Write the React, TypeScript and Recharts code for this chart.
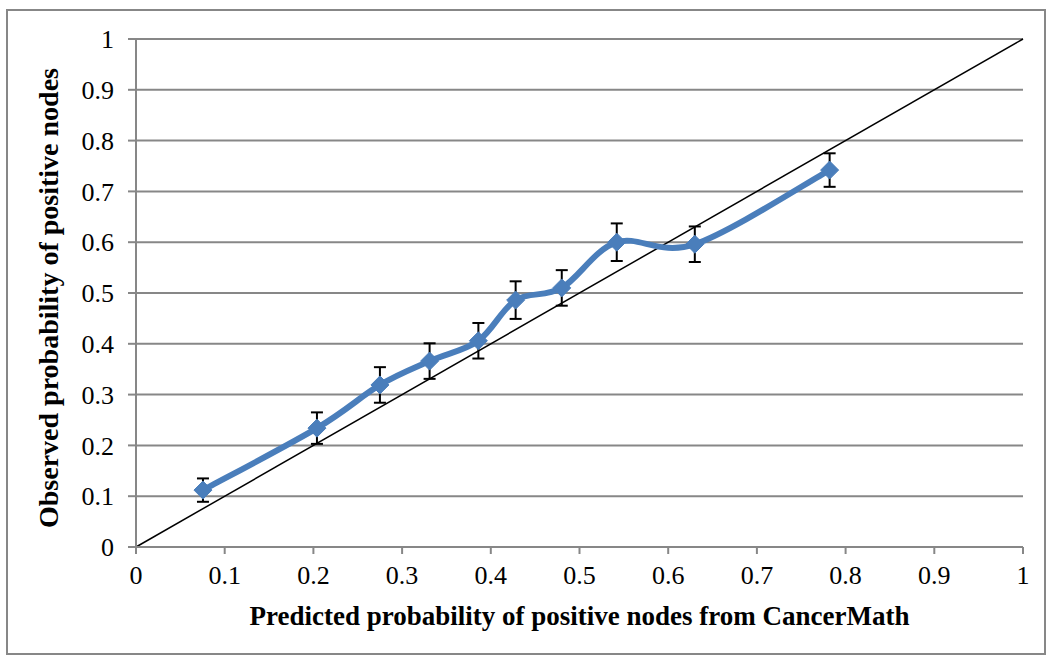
import React from "react";
import {
  CartesianGrid,
  ErrorBar,
  Label,
  Line,
  LineChart,
  ReferenceLine,
  XAxis,
  YAxis,
} from "recharts";

// predicted (CancerMath) vs observed probability of positive nodes
const predicted = [0.0755, 0.204, 0.275, 0.331, 0.386, 0.428, 0.48, 0.542, 0.63, 0.782];
const observed = [0.112, 0.234, 0.319, 0.366, 0.406, 0.486, 0.51, 0.6, 0.596, 0.742];
const errors = [0.023, 0.031, 0.035, 0.035, 0.035, 0.037, 0.035, 0.037, 0.035, 0.033];
const ticks = [0, 0.1, 0.2, 0.3, 0.4, 0.5, 0.6, 0.7, 0.8, 0.9, 1];

const xTitle = "Predicted probability of positive nodes from CancerMath";
const yTitle = "Observed probability of positive nodes";

const data = predicted.map((p, i) => ({ x: p, y: observed[i], err: errors[i] }));

const FONT = "'Liberation Serif', 'Times New Roman', serif";
const BLUE = "#4A7EBB";
const GRAY = "#878787";

// excel-style smoothed line (catmull-rom through the points)
function smoothCurve(context: any) {
  let pts: number[][] = [];
  return {
    areaStart() {},
    areaEnd() {},
    lineStart() {
      pts = [];
    },
    point(x: number, y: number) {
      pts.push([+x, +y]);
    },
    lineEnd() {
      if (!pts.length) return;
      context.moveTo(pts[0][0], pts[0][1]);
      for (let i = 0; i < pts.length - 1; i++) {
        const p0 = pts[Math.max(0, i - 1)];
        const p1 = pts[i];
        const p2 = pts[i + 1];
        const p3 = pts[Math.min(pts.length - 1, i + 2)];
        context.bezierCurveTo(
          p1[0] + (p2[0] - p0[0]) / 6,
          p1[1] + (p2[1] - p0[1]) / 6,
          p2[0] - (p3[0] - p1[0]) / 6,
          p2[1] - (p3[1] - p1[1]) / 6,
          p2[0],
          p2[1]
        );
      }
    },
  };
}

function Diamond(props: any) {
  const { cx, cy } = props;
  if (cx == null || cy == null) return null;
  const r = 9;
  return (
    <path
      d={`M${cx},${cy - r}L${cx + r},${cy}L${cx},${cy + r}L${cx - r},${cy}Z`}
      fill={BLUE}
      stroke={BLUE}
    />
  );
}

function YTitle(props: any) {
  const vb = props.viewBox || {};
  const x = vb.x + 48;
  const y = vb.y + vb.height / 2 + 5;
  return (
    <text
      x={x}
      y={y}
      transform={`rotate(-90 ${x} ${y})`}
      textAnchor="middle"
      dominantBaseline="central"
      fontFamily={FONT}
      fontWeight="bold"
      fontSize={28}
      fill="#000"
    >
      {yTitle}
    </text>
  );
}

export default function App() {
  const tick = { fill: "#000", fontSize: 26, fontFamily: FONT };
  return (
    <div style={{ position: "absolute", left: 0, top: 0, width: 1049, height: 657, background: "#fff" }}>
      <div
        style={{
          position: "absolute",
          left: 6,
          top: 9,
          width: 1040,
          height: 646,
          border: `2px solid ${GRAY}`,
          boxSizing: "border-box",
        }}
      />
      <div style={{ position: "absolute", left: 0, top: 0 }}>
        <LineChart
          width={1049}
          height={657}
          data={data}
          margin={{ top: 39, right: 26, bottom: 0, left: 0 }}
        >
          <CartesianGrid vertical={false} stroke={GRAY} strokeWidth={2} />
          <XAxis
            type="number"
            dataKey="x"
            domain={[0, 1]}
            ticks={ticks}
            height={110}
            stroke={GRAY}
            strokeWidth={2}
            tickSize={7}
            tickMargin={12}
            tick={tick}
          >
            <Label
              value={xTitle}
              position="insideBottom"
              offset={32}
              fontFamily={FONT}
              fontWeight="bold"
              fontSize={27}
              fill="#000"
            />
          </XAxis>
          <YAxis
            type="number"
            domain={[0, 1]}
            ticks={ticks}
            width={136}
            stroke={GRAY}
            strokeWidth={2}
            tickSize={8}
            tickMargin={14}
            tick={tick}
          >
            <Label content={<YTitle />} />
          </YAxis>
          <ReferenceLine
            segment={[
              { x: 0, y: 0 },
              { x: 1, y: 1 },
            ]}
            stroke="#000"
            strokeWidth={1.5}
          />
          <Line
            dataKey="y"
            type={smoothCurve as any}
            stroke={BLUE}
            strokeWidth={6}
            dot={<Diamond />}
            activeDot={false}
            isAnimationActive={false}
          >
            <ErrorBar dataKey="err" direction="y" width={6} stroke="#000" strokeWidth={2} />
          </Line>
        </LineChart>
      </div>
    </div>
  );
}
